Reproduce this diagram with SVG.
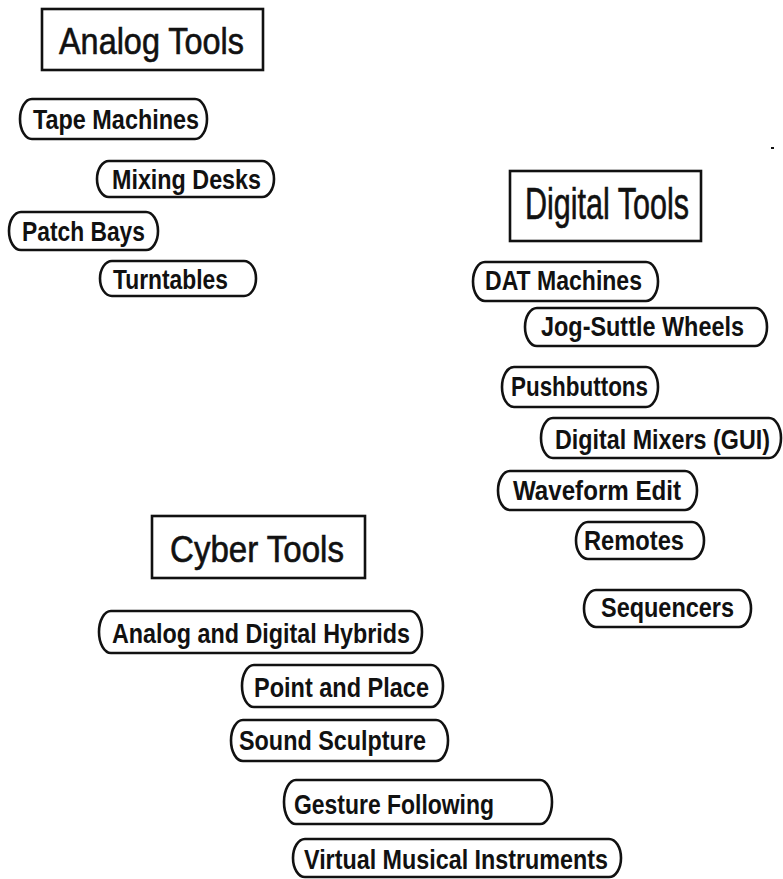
<svg xmlns="http://www.w3.org/2000/svg" width="783" height="879" viewBox="0 0 783 879">
  <style>
    .bg { fill: #ffffff; }
    .hdr rect { fill: none; stroke: #111; stroke-width: 2.6; }
    .hdr text { font-family: "Liberation Sans", Arial, Helvetica, sans-serif; fill: #111; stroke: #111; stroke-width: 0.6; }
    .pill rect { fill: none; stroke: #111; stroke-width: 2.6; }
    .pill text { font-family: "Liberation Sans", Arial, Helvetica, sans-serif; font-weight: bold; font-size: 28px; fill: #111; }
  </style>
  <rect class="bg" x="0" y="0" width="783" height="879"/>

  <!-- category headers -->
  <g id="analog-tools" class="hdr">
    <rect x="42" y="9" width="221" height="61"/>
    <text x="59" y="54" font-size="37" textLength="185" lengthAdjust="spacingAndGlyphs">Analog Tools</text>
  </g>
  <g id="digital-tools" class="hdr">
    <rect x="510" y="171" width="191" height="70"/>
    <text x="525" y="219" font-size="44" textLength="164" lengthAdjust="spacingAndGlyphs">Digital Tools</text>
  </g>
  <g id="cyber-tools" class="hdr">
    <rect x="152" y="516" width="213" height="62"/>
    <text x="170" y="562" font-size="36" textLength="174" lengthAdjust="spacingAndGlyphs">Cyber Tools</text>
  </g>

  <!-- analog items -->
  <g id="tape-machines" class="pill">
    <rect x="20" y="99" width="187" height="40" rx="12" ry="20"/>
    <text x="33" y="129" textLength="166" lengthAdjust="spacingAndGlyphs">Tape Machines</text>
  </g>
  <g id="mixing-desks" class="pill">
    <rect x="97" y="161" width="177" height="36" rx="12" ry="18"/>
    <text x="112" y="189" textLength="149" lengthAdjust="spacingAndGlyphs">Mixing Desks</text>
  </g>
  <g id="patch-bays" class="pill">
    <rect x="9" y="212" width="149" height="38" rx="12" ry="19"/>
    <text x="22" y="241" textLength="123" lengthAdjust="spacingAndGlyphs">Patch Bays</text>
  </g>
  <g id="turntables" class="pill">
    <rect x="100" y="261" width="156" height="35" rx="12" ry="17.5"/>
    <text x="113" y="289" textLength="115" lengthAdjust="spacingAndGlyphs">Turntables</text>
  </g>

  <!-- digital items -->
  <g id="dat-machines" class="pill">
    <rect x="473" y="262" width="185" height="39" rx="12" ry="19.5"/>
    <text x="485" y="290" textLength="157" lengthAdjust="spacingAndGlyphs">DAT Machines</text>
  </g>
  <g id="jog-suttle-wheels" class="pill">
    <rect x="525" y="308" width="242" height="38" rx="12" ry="19"/>
    <text x="541" y="336" textLength="203" lengthAdjust="spacingAndGlyphs">Jog-Suttle Wheels</text>
  </g>
  <g id="pushbuttons" class="pill">
    <rect x="502" y="367" width="156" height="40" rx="12" ry="20"/>
    <text x="511" y="396" textLength="137" lengthAdjust="spacingAndGlyphs">Pushbuttons</text>
  </g>
  <g id="digital-mixers" class="pill">
    <rect x="541" y="418" width="240" height="40" rx="12" ry="20"/>
    <text x="555" y="449" textLength="215" lengthAdjust="spacingAndGlyphs">Digital Mixers (GUI)</text>
  </g>
  <g id="waveform-edit" class="pill">
    <rect x="498" y="471" width="199" height="39" rx="12" ry="19.5"/>
    <text x="513" y="500" textLength="168" lengthAdjust="spacingAndGlyphs">Waveform Edit</text>
  </g>
  <g id="remotes" class="pill">
    <rect x="576" y="522" width="128" height="37" rx="12" ry="18.5"/>
    <text x="584" y="550" textLength="100" lengthAdjust="spacingAndGlyphs">Remotes</text>
  </g>
  <g id="sequencers" class="pill">
    <rect x="584" y="590" width="167" height="37" rx="12" ry="18.5"/>
    <text x="601" y="617" textLength="133" lengthAdjust="spacingAndGlyphs">Sequencers</text>
  </g>

  <!-- cyber items -->
  <g id="hybrids" class="pill">
    <rect x="99" y="611" width="323" height="42" rx="12" ry="21"/>
    <text x="112" y="643" textLength="298" lengthAdjust="spacingAndGlyphs">Analog and Digital Hybrids</text>
  </g>
  <g id="point-and-place" class="pill">
    <rect x="242" y="665" width="201" height="42" rx="12" ry="21"/>
    <text x="254" y="697" textLength="175" lengthAdjust="spacingAndGlyphs">Point and Place</text>
  </g>
  <g id="sound-sculpture" class="pill">
    <rect x="231" y="720" width="217" height="41" rx="12" ry="20.5"/>
    <text x="239" y="750" textLength="187" lengthAdjust="spacingAndGlyphs">Sound Sculpture</text>
  </g>
  <g id="gesture-following" class="pill">
    <rect x="284" y="780" width="268" height="44" rx="12" ry="22"/>
    <text x="294" y="814" textLength="200" lengthAdjust="spacingAndGlyphs">Gesture Following</text>
  </g>
  <g id="virtual-instruments" class="pill">
    <rect x="293" y="839" width="328" height="38" rx="12" ry="19"/>
    <text x="304" y="869" textLength="304" lengthAdjust="spacingAndGlyphs">Virtual Musical Instruments</text>
  </g>

  <!-- no connectors between nodes -->
  <g id="connectors"></g>

  <!-- stray mark near the top right -->
  <rect x="771" y="147" width="3" height="2" fill="#111"/>
</svg>
